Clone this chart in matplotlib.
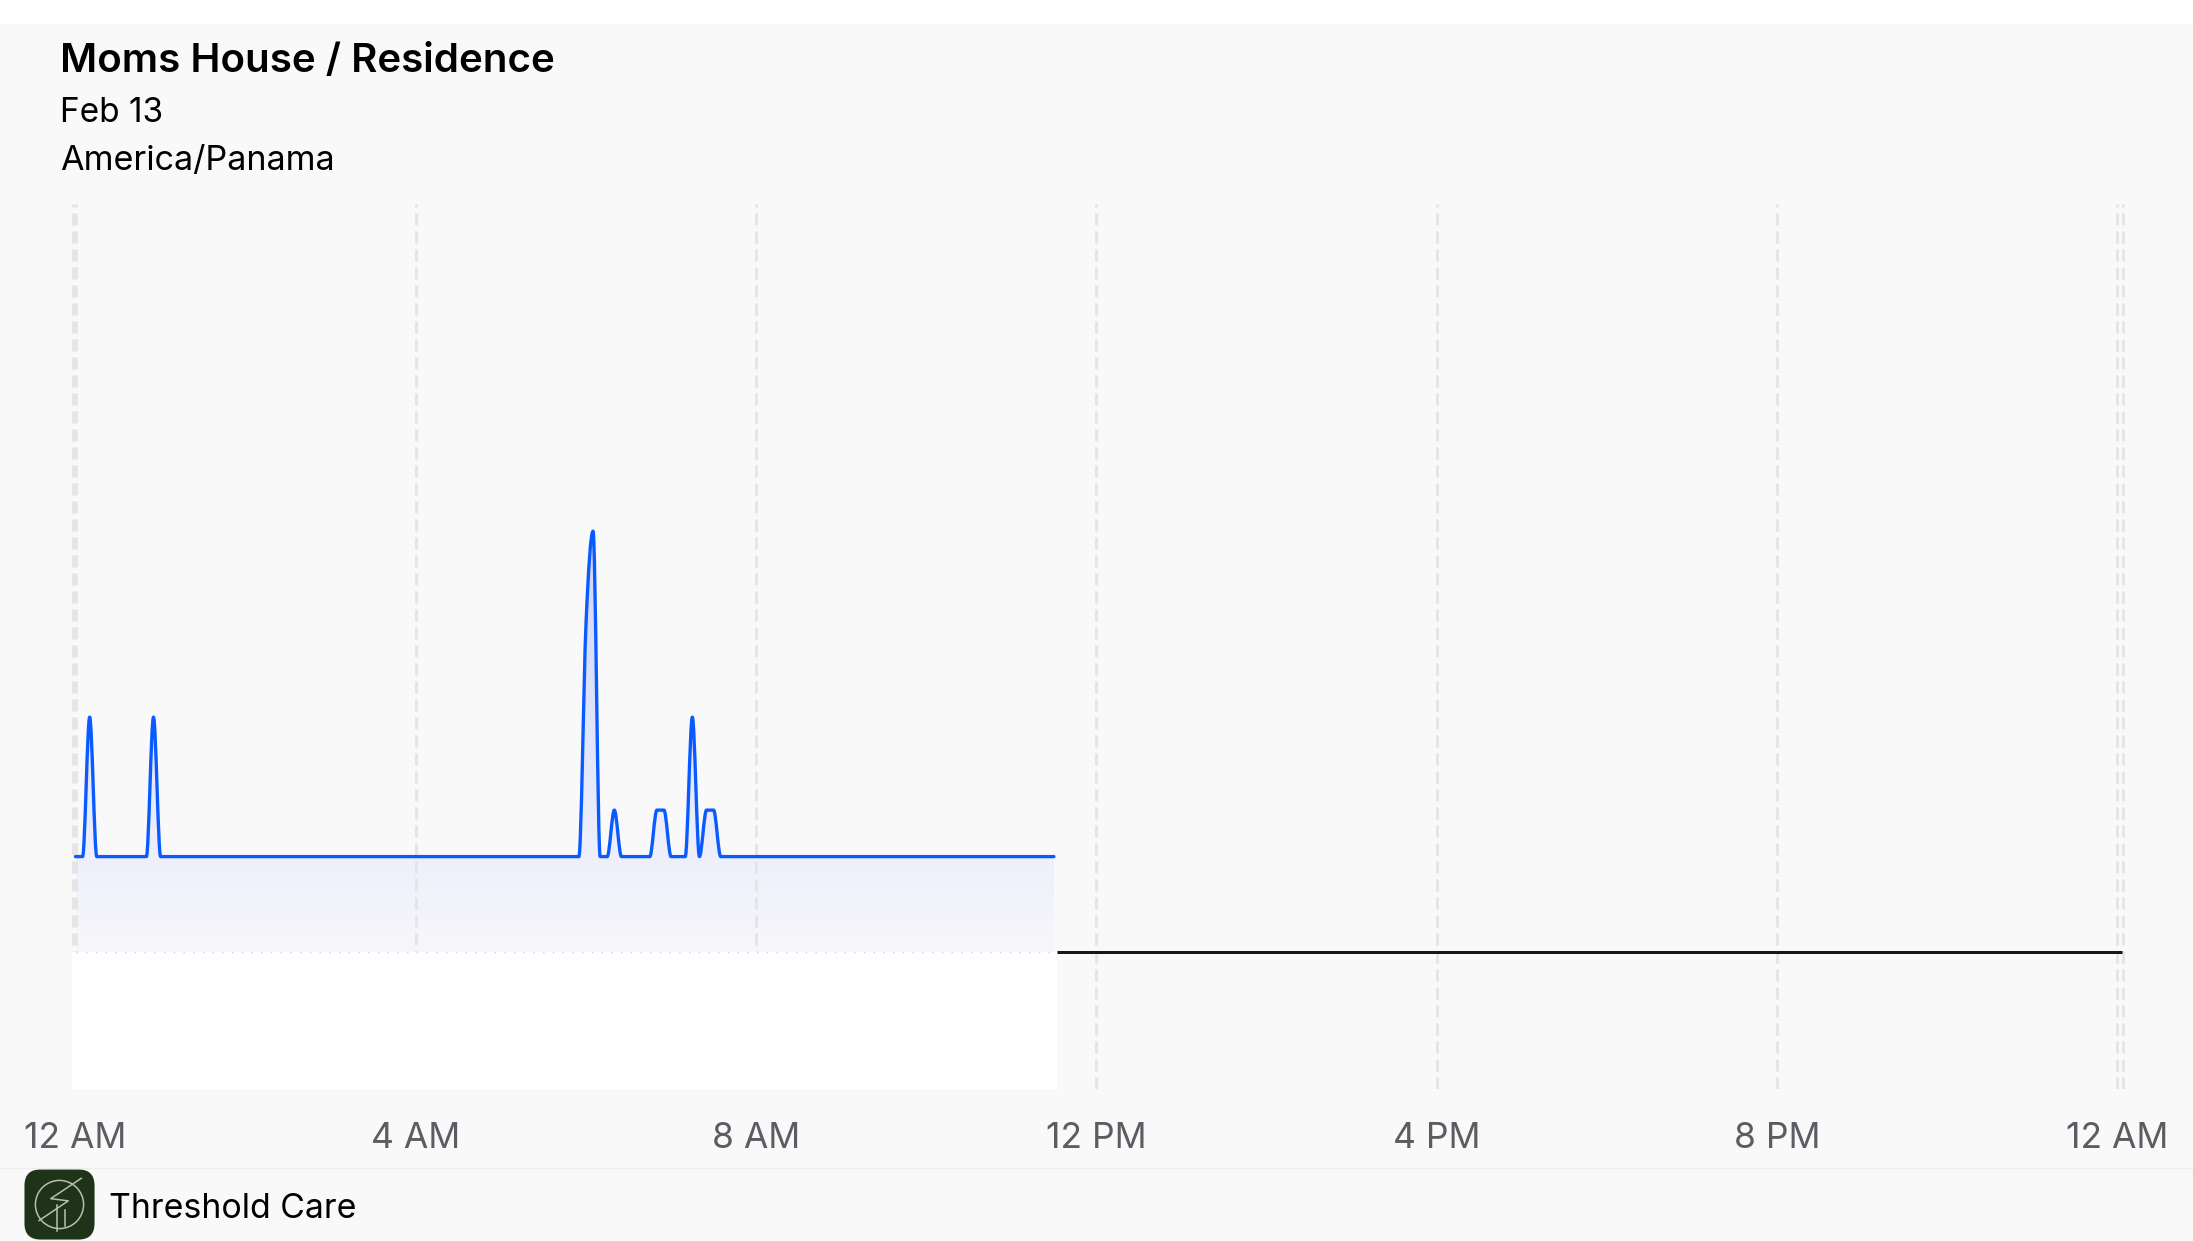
import numpy as np
import matplotlib.pyplot as plt
from matplotlib.path import Path
from matplotlib.patches import PathPatch, Rectangle, FancyBboxPatch, Circle
from matplotlib.lines import Line2D

W, H = 2193, 1241

# activity samples: minutes after midnight and level
minutes = [0, 5, 10, 15, 50, 55, 60, 355, 360, 365, 370, 375, 380, 385,
           405, 410, 415, 420, 430, 435, 440, 445, 450, 455, 690]
levels = [0, 0, 3, 0, 0, 3, 0, 0, 5, 7, 0, 0, 1, 0,
          0, 1, 1, 0, 0, 3, 0, 1, 1, 0, 0]

tick_hours = [0, 4, 8, 12, 16, 20, 24]
tick_labels = ["12 AM", "4 AM", "8 AM", "12 PM", "4 PM", "8 PM", "12 AM"]

title = "Moms House / Residence"
date_text = "Feb 13"
tz_text = "America/Panama"
brand = "Threshold Care"

floor = -2.05
blue = "#0a5bff"
bg = "#f9f9f9"

plt.rcParams['font.family'] = ['Inter', 'DejaVu Sans']


def monotone_path(xs, ys):
    # cubic bezier pieces, same slopes as a monotone-x curve
    xs = np.asarray(xs, float)
    ys = np.asarray(ys, float)
    n = len(xs)
    h = np.diff(xs)
    s = np.diff(ys) / h
    t = np.zeros(n)
    for i in range(1, n - 1):
        s0, s1 = s[i - 1], s[i]
        p = (s0 * h[i] + s1 * h[i - 1]) / (h[i - 1] + h[i])
        t[i] = (np.sign(s0) + np.sign(s1)) * min(abs(s0), abs(s1), 0.5 * abs(p))
    t[0] = (3 * s[0] - t[1]) / 2
    t[-1] = (3 * s[-1] - t[-2]) / 2
    verts = [(xs[0], ys[0])]
    codes = [Path.MOVETO]
    for i in range(n - 1):
        d = h[i] / 3
        verts += [(xs[i] + d, ys[i] + d * t[i]),
                  (xs[i + 1] - d, ys[i + 1] - d * t[i + 1]),
                  (xs[i + 1], ys[i + 1])]
        codes += [Path.CURVE4] * 3
    return verts, codes


fig = plt.figure(figsize=(W / 100, H / 100), dpi=100, facecolor=bg)
fig.patches.append(Rectangle((0, 1 - 24 / H), 1, 24 / H, transform=fig.transFigure,
                             facecolor="white", edgecolor="none", zorder=0))
fig.add_artist(Line2D([0, 1], [1 - 1168 / H] * 2, color="#ededed", lw=1))

# x in hours: 0h at px 75.5, 85.08 px per hour
x_left = (72 - 75.5) / 85.08
x_right = (2125 - 75.5) / 85.08
ax = fig.add_axes([72 / W, 1 - 1089 / H, (2125 - 72) / W, (1089 - 204) / H])
ax.set_facecolor("none")
for sp in ax.spines.values():
    sp.set_visible(False)

hours = np.array(minutes) / 60
verts, codes = monotone_path(hours, levels)

# gradient fill under the curve
fill_verts = verts + [(hours[-1], floor), (hours[0], floor), (hours[0], levels[0])]
fill_codes = codes + [Path.LINETO, Path.LINETO, Path.CLOSEPOLY]
clip = PathPatch(Path(fill_verts, fill_codes), facecolor="none", edgecolor="none")
ax.add_patch(clip)
grad = np.linspace(0, 1, 256)[:, None, None]
top_c = np.array([205, 212, 248]) / 255
bot_c = np.array([247, 247, 251]) / 255
img = bot_c + (top_c - bot_c) * grad
im = ax.imshow(img, extent=(hours[0], hours[-1], floor, max(levels)), origin="lower",
               aspect="auto", interpolation="bilinear", zorder=1)
im.set_clip_path(clip)

# dashed grid
for hr in tick_hours + [-0.03, 24.065]:
    ax.axvline(hr, color="#e5e5e5", lw=2.16, linestyle=(0, (4, 2)), zorder=2)

data_end = (1057 - 75.5) / 85.08
ax.add_patch(Rectangle((x_left, -5), data_end - x_left, floor + 5,
                       facecolor="white", edgecolor="none", zorder=3))
ax.plot([hours[0], hours[-1]], [floor, floor], color="#cfcfcf", lw=1,
        linestyle=(0, (1, 6)), zorder=3)
ax.plot([data_end, 24.05], [floor, floor], color="#111820", lw=2.16,
        solid_capstyle="butt", zorder=4)

ax.add_patch(PathPatch(Path(verts, codes), facecolor="none", edgecolor=blue,
                       lw=2.4, joinstyle="round", capstyle="round", zorder=5))

ax.set_xlim(x_left, x_right)
ax.set_ylim(-5, 14.04)
ax.set_yticks([])
ax.set_xticks(tick_hours, tick_labels)
ax.tick_params(axis="x", length=0, pad=23.5, labelsize=25.5, labelcolor="#5c5c63")

# header
fig.text(60 / W, 1 - 71.7 / H, title, fontsize=29, fontweight="semibold",
         va="baseline", ha="left", color="black")
fig.text(60 / W, 1 - 122 / H, date_text, fontsize=24, va="baseline", ha="left", color="black")
fig.text(60 / W, 1 - 170 / H, tz_text, fontsize=24.6, va="baseline", ha="left", color="black")

# footer logo + brand
lax = fig.add_axes([23 / W, 1 - 1241 / H, 73 / W, 73 / H])
lax.set_xlim(0, 1)
lax.set_ylim(0, 1)
lax.axis("off")
lax.add_patch(FancyBboxPatch((0.02, 0.02), 0.96, 0.96, boxstyle="round,pad=0,rounding_size=0.22",
                             facecolor="#1e3318", edgecolor="none"))
lc = "#b9beb2"
lax.add_patch(Circle((0.5, 0.5), 0.33, facecolor="none", edgecolor=lc, lw=1.1))
lax.plot([0.22, 0.62, 0.38, 0.8], [0.28, 0.55, 0.58, 0.86], color=lc, lw=1.1)
lax.plot([0.47, 0.47], [0.5, 0.14], color=lc, lw=1.1)
lax.plot([0.58, 0.58], [0.43, 0.2], color=lc, lw=1.1)
fig.text(109 / W, 1 - 1218 / H, brand, fontsize=24.4, va="baseline", ha="left", color="black")

fig.savefig("out.png", dpi=100, facecolor=bg)
